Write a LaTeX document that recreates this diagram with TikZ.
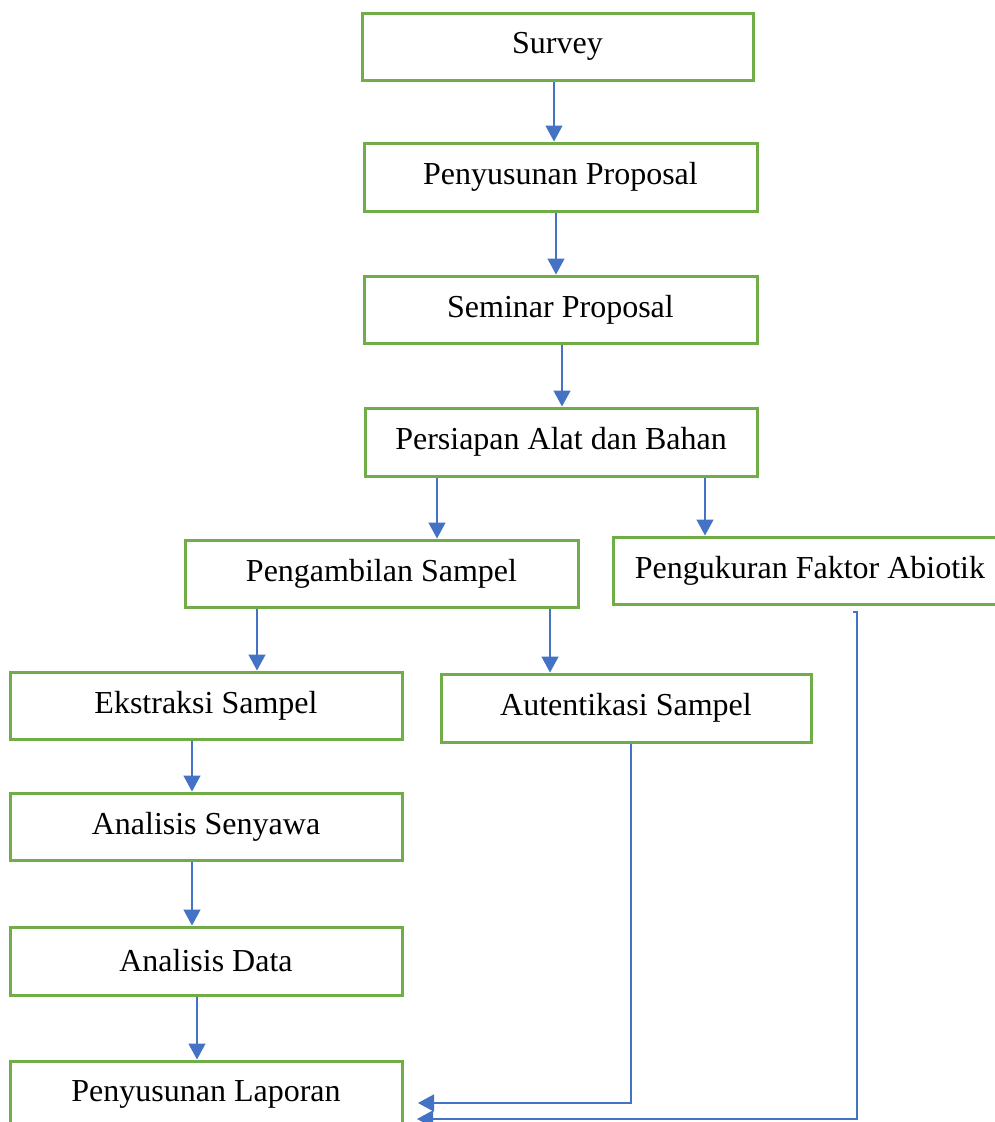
\documentclass[tikz,border=0pt]{standalone}
\usepackage{fontspec}
\setmainfont{Liberation Serif}
\usetikzlibrary{arrows.meta}
\definecolor{boxgreen}{HTML}{70AD47}
\definecolor{arrblue}{HTML}{4472C4}
\begin{document}
\begin{tikzpicture}[x=1pt,y=-1pt,
  box/.style={draw=boxgreen,line width=3pt,rectangle,inner sep=0pt,
    minimum width=392pt,minimum height=67pt,
    font=\fontsize{32}{38}\selectfont},
  arr/.style={draw=arrblue,line width=1.5pt,
    -{Triangle[width=17pt,length=16pt]}}]
\useasboundingbox (0,0) rectangle (995,1122);
\clip (0,0) rectangle (995,1122);
\fill[white] (0,0) rectangle (995,1122);
\node[box,minimum width=391pt] (survey) at (557.5,46.5) {Survey};
\node[box,minimum width=393pt,minimum height=68pt] (pp) at (560.5,177) {Penyusunan Proposal};
\node[box,minimum width=393pt] (sp) at (560.5,309.5) {Seminar Proposal};
\node[box,minimum height=68pt] (pab) at (561,442) {Persiapan Alat dan Bahan};
\node[box,minimum width=393pt] (ps) at (381.5,573.5) {Pengambilan Sampel};
\node[box,minimum width=394pt] (pfa) at (810,570.5) {Pengukuran Faktor Abiotik};
\node[box] (es) at (206,705.5) {Ekstraksi Sampel};
\node[box,minimum width=370pt,minimum height=68pt] (as) at (626,708) {Autentikasi Sampel};
\node[box] (ans) at (206,826.5) {Analisis Senyawa};
\node[box,minimum height=68pt] (ad) at (206,961) {Analisis Data};
\node[box] (pl) at (206,1094.5) {Penyusunan Laporan};
\coordinate (tipA) at (418,1103);
\coordinate (tipB) at (417,1119);
\draw[arr] ([xshift=-3.5pt]survey.south) -- ([xshift=-6.5pt]pp.north);
\draw[arr] ([xshift=-4.5pt]pp.south) -- ([xshift=-4.5pt]sp.north);
\draw[arr] ([xshift=1.5pt]sp.south) -- ([xshift=1pt]pab.north);
\draw[arr] ([xshift=-124pt]pab.south) -- ([xshift=55.5pt]ps.north);
\draw[arr] ([xshift=144pt]pab.south) -- ([xshift=-105pt]pfa.north);
\draw[arr] ([xshift=-124.5pt]ps.south) -- ([xshift=51pt]es.north);
\draw[arr] ([xshift=168.5pt]ps.south) -- ([xshift=-76pt]as.north);
\draw[arr] ([xshift=-14pt]es.south) -- ([xshift=-14pt]ans.north);
\draw[arr] ([xshift=-14pt]ans.south) -- ([xshift=-14pt]ad.north);
\draw[arr] ([xshift=-9pt]ad.south) -- ([xshift=-9pt]pl.north);
\draw[arr] ([xshift=5pt]as.south) |- (tipA);
\draw[arr] ([xshift=43pt,yshift=-6.5pt]pfa.south) -- ++(4,0) |- (tipB);
\end{tikzpicture}
\end{document}
